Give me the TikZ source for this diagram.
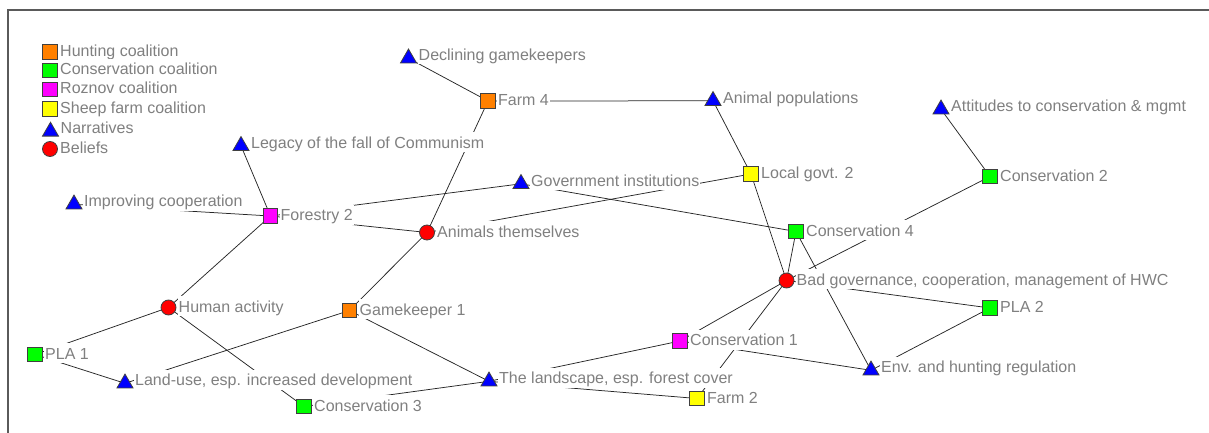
\documentclass[tikz,border=0pt]{standalone}
\usepackage{fontspec}
\setmainfont{Liberation Sans}
\usetikzlibrary{shapes.geometric}

\definecolor{huntorange}{RGB}{255,128,0}
\definecolor{consgreen}{RGB}{0,255,0}
\definecolor{roznovpink}{RGB}{255,0,255}
\definecolor{sheepyellow}{RGB}{255,255,0}
\definecolor{narrblue}{RGB}{0,0,255}
\definecolor{beliefred}{RGB}{255,0,0}
\definecolor{labelgray}{RGB}{128,128,128}
\definecolor{framegray}{RGB}{90,90,90}

\pgfdeclarelayer{edgelayer}
\pgfsetlayers{edgelayer,main}

\tikzset{
  sym/.style={draw=black!75, line width=0.8pt, inner sep=0pt, outer sep=0pt},
  sq/.style={sym, rectangle, minimum size=14.5pt},
  dot/.style={sym, circle, minimum size=15pt, fill=beliefred},
  tri/.style={sym, regular polygon, regular polygon sides=3, minimum size=18.5pt,
              fill=narrblue, yshift=-2.3pt},
  hunt/.style={sq, fill=huntorange},
  cons/.style={sq, fill=consgreen},
  roz/.style={sq, fill=roznovpink},
  sheep/.style={sq, fill=sheepyellow},
  lbl/.style={anchor=base west, xshift=9pt, yshift=-4.5pt, fill=white,
              inner sep=1pt, text height=15pt, text depth=3pt, text=labelgray,
              font=\fontsize{16pt}{18pt}\selectfont},
  link/.style={draw=black!85, line width=0.75pt},
}

% symbol plus its label, both named
\newcommand{\netnode}[4]{%
  \node[#1] (#2) at (#3) {};
  \node[lbl] (#2-label) at (#3) {#4};}

\begin{document}
\begin{tikzpicture}[x=1pt, y=-1pt]
\useasboundingbox (0,0) rectangle (1209,433);

% frame
\draw[framegray, line width=2pt] (8,433) -- (8,10) -- (1209,10);

% legend
\netnode{hunt}{lghunt}{50,52}{Hunting coalition}
\netnode{cons}{lgcons}{50,70.5}{Conservation coalition}
\netnode{roz}{lgroz}{50,89.5}{Roznov coalition}
\netnode{sheep}{lgsheep}{50,109}{Sheep farm coalition}
\netnode{tri}{lgnarr}{50.5,129.2}{Narratives}
\netnode{dot}{lgbel}{50,149}{Beliefs}

% network
\netnode{tri}{decl}{408.5,56}{Declining gamekeepers}
\netnode{hunt}{farm4}{488,101}{Farm 4}
\netnode{tri}{animpop}{713,98.5}{Animal populations}
\netnode{tri}{attit}{941,107}{Attitudes to conservation \& mgmt}
\netnode{tri}{legacy}{241,143.5}{Legacy of the fall of Communism}
\netnode{tri}{improv}{74,202}{Improving cooperation}
\netnode{roz}{forestry}{270.5,216}{Forestry 2}
\netnode{dot}{animals}{427,232.5}{Animals themselves}
\netnode{tri}{govinst}{521,181.5}{Government institutions}
\netnode{sheep}{localgovt}{751,174}{Local govt. 2}
\netnode{cons}{cons2}{990,176.5}{Conservation 2}
\netnode{cons}{cons4}{796,231.5}{Conservation 4}
\netnode{dot}{badgov}{786.5,280.5}{Bad governance, cooperation, management of HWC}
\netnode{dot}{human}{168.5,307.5}{Human activity}
\netnode{hunt}{gk1}{349.5,310.5}{Gamekeeper 1}
\netnode{cons}{pla2}{990,308}{PLA 2}
\netnode{cons}{pla1}{35,354.5}{PLA 1}
\netnode{roz}{cons1}{680,341}{Conservation 1}
\netnode{tri}{landuse}{125,381}{Land-use, esp. increased development}
\netnode{tri}{landscape}{489,379}{The landscape, esp. forest cover}
\netnode{tri}{env}{871,368}{Env. and hunting regulation}
\netnode{sheep}{farm2}{697,398.5}{Farm 2}
\netnode{cons}{cons3}{304,406.5}{Conservation 3}

% connectors, behind symbols and labels
\begin{pgfonlayer}{edgelayer}
\foreach \a/\b in {decl/farm4, farm4/animpop, farm4/animals, animpop/localgovt,
    localgovt/badgov, animals/localgovt, govinst/cons4, forestry/govinst,
    forestry/animals, forestry/legacy, forestry/improv, forestry/human,
    human/pla1, human/cons3, pla1/landuse, landuse/gk1, gk1/animals,
    gk1/landscape, cons3/landscape, landscape/cons1, landscape/farm2,
    cons1/badgov, farm2/badgov, badgov/pla2, env/pla2, cons4/badgov,
    cons4/env, cons2/badgov, attit/cons2, cons1/env}
  \draw[link] (\a.center) -- (\b.center);
\end{pgfonlayer}
\end{tikzpicture}
\end{document}
